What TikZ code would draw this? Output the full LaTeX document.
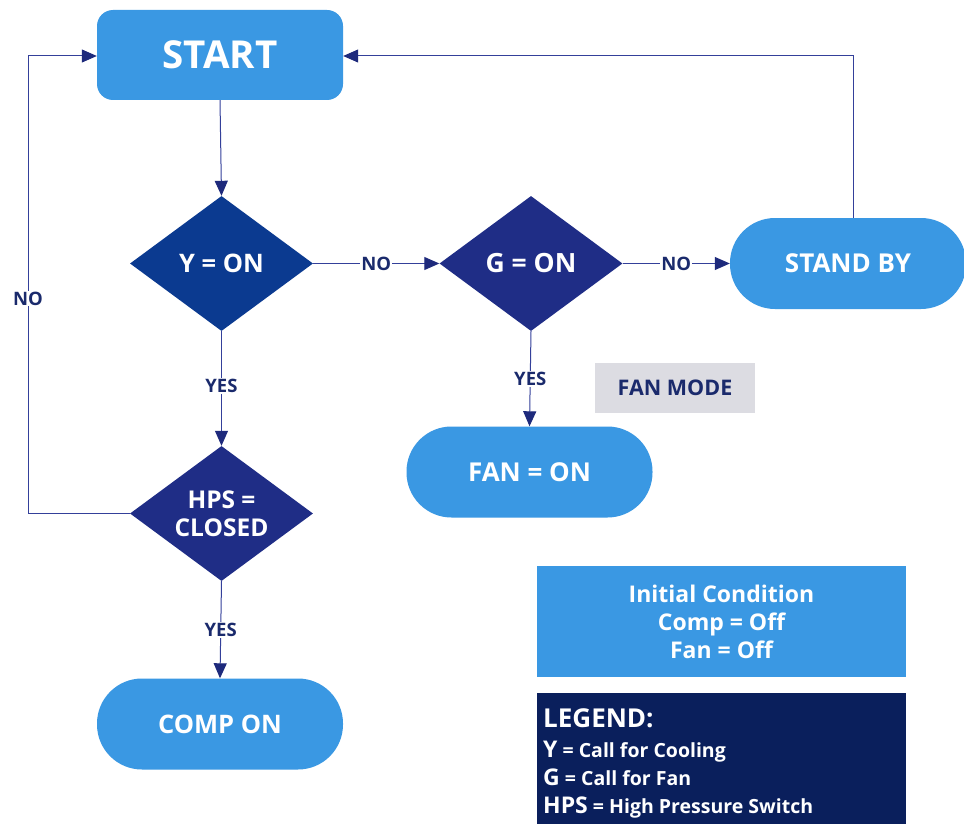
\documentclass[tikz,border=0pt]{standalone}
\usepackage{fontspec}
\setmainfont{Open Sans}
\usetikzlibrary{shapes.geometric,arrows.meta}
\definecolor{lblue}{HTML}{3A98E3}
\definecolor{dblueA}{HTML}{0B3A90}
\definecolor{dblueB}{HTML}{1F2D86}
\definecolor{navy}{HTML}{0A1F5C}
\definecolor{linec}{HTML}{34409A}
\definecolor{arrc}{HTML}{1E2A7C}
\definecolor{greyb}{HTML}{DCDCE2}
\definecolor{lbltxt}{HTML}{1A2A6C}
\tikzset{
  lightbox/.style={fill=lblue,draw=none,text=white,font=\bfseries\fontsize{25}{28}\selectfont,inner sep=0pt},
  stadium/.style={lightbox,rounded corners=45pt,minimum width=246pt,minimum height=91pt},
  decision/.style={diamond,draw=none,text=white,font=\bfseries\fontsize{25.5}{27}\selectfont,inner sep=0pt,minimum width=183pt,minimum height=135pt,shape aspect=1.355,align=center},
  conn/.style={draw=linec,line width=1pt,-{Triangle[length=15pt,width=13pt,fill=arrc,color=arrc]}},
  lbl/.style={fill=white,text=lbltxt,font=\bfseries\fontsize{18.5}{20}\selectfont,inner sep=1pt},
}
\begin{document}
\begin{tikzpicture}[x=1pt,y=-1pt]
\useasboundingbox[fill=white] (0,0) rectangle (964,824);
% nodes
\node[lightbox,rounded corners=16pt,minimum width=246pt,minimum height=90pt,font=\bfseries\fontsize{38.5}{40}\selectfont] (start) at (220,55) {START};
\node[decision,fill=dblueA] (y) at (221.5,263.5) {Y = ON};
\node[decision,fill=dblueB,font=\bfseries\fontsize{26.5}{27}\selectfont] (g) at (531,263.5) {G = ON};
\node[decision,fill=dblueB,font=\bfseries\fontsize{24.5}{28}\selectfont] (hps) at (221.5,513.5) {HPS =\\CLOSED};
\node[stadium,minimum width=236pt,font=\bfseries\fontsize{26}{28}\selectfont] (stand) at (848,263.5) {STAND BY};
\node[stadium,font=\bfseries\fontsize{26}{28}\selectfont] (fan) at (529.5,472) {FAN = ON};
\node[stadium,font=\bfseries\fontsize{25.5}{28}\selectfont] (comp) at (220,724) {COMP ON};
\node[fill=greyb,text=lbltxt,font=\bfseries\fontsize{21.5}{22}\selectfont,minimum width=160pt,minimum height=50pt,inner sep=0pt] (fanmode) at (675,388) {FAN MODE};
\node[fill=lblue,text=white,font=\bfseries\fontsize{23}{28}\selectfont,minimum width=369pt,minimum height=111pt,inner sep=0pt,align=center] (init) at (721.5,621.5) {Initial Condition\\Comp = Off\\Fan = Off};
\node[fill=navy,text=white,minimum width=369pt,minimum height=134pt,inner sep=0pt] (legend) at (721.5,760) {};
\node[text=white,anchor=north west,align=left,inner sep=0pt,font=\bfseries\fontsize{19.5}{28}\selectfont] (legtext) at (543,708)
 {{\fontsize{26}{28}\selectfont LEGEND:}\\[2pt]
  {\fontsize{23}{28}\selectfont Y} = Call for Cooling\\
  {\fontsize{23}{28}\selectfont G} = Call for Fan\\
  {\fontsize{23}{28}\selectfont HPS} = High Pressure Switch};
% connectors
\draw[conn] (start.south) -- (y.north);
\draw[conn] (y.east) -- node[lbl] {NO} (g.west);
\draw[conn] (g.east) -- node[lbl] {NO} (stand.west);
\draw[conn] (y.south) -- node[lbl,pos=0.48] {YES} (hps.north);
\draw[conn] (g.south) -- node[lbl,pos=0.5] {YES} (fan.north);
\draw[conn] (hps.south) -- node[lbl] {YES} (comp.north);
\coordinate (lb) at (28,513.5);
\coordinate (lt) at (28,56);
\draw[conn] (hps.west) -- (lb) -- node[lbl,pos=0.47] {NO} (lt) -- (start.west |- lt);
\coordinate (rb) at (853,56);
\draw[conn] (stand.north -| rb) -- (rb) -- (start.east |- rb);
\end{tikzpicture}
\end{document}
